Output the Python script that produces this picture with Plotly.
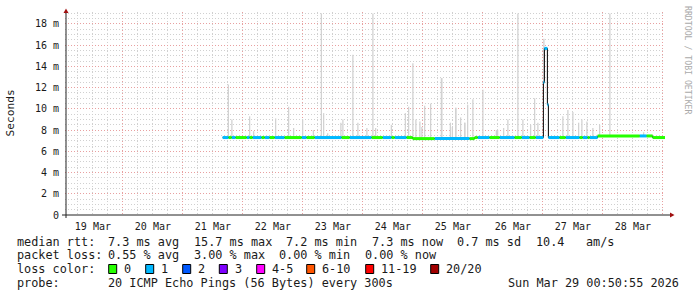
import plotly.graph_objects as go
from datetime import datetime, timedelta

# ---------------- data ----------------
T0 = datetime(2026, 3, 19)                 # reference for hour offsets
END = datetime(2026, 3, 29, 0, 50, 55)
START = END - timedelta(days=10)

# median RTT (ms), step changes, hours since Mar 19 00:00
median_hours = [63.9, 139.9, 164.7, 192.2, 192.6, 193.8, 194.2, 213.9, 235.9]
median_ms = [7.3, 7.2, 7.3, 12.5, 15.7, 10.4, 7.3, 7.45, 7.3]
data_end_hours = 240.85

# loss (pings lost of 20), step changes, hours since Mar 19 00:00
loss_hours = [63.9, 66.3, 67.5, 69.1, 73.5, 74.7, 75.9, 79.5, 80.7, 82.7, 84.7, 88.7,
              95.5, 97.5, 100.7, 111.5, 114.7, 123.5, 127.9, 131.5, 132.7, 137.5,
              148.7, 162.7, 165.9, 170.7, 174.7, 180.7, 183.5, 186.7, 189.1, 198.7,
              201.1, 206.7, 207.9, 209.9, 210.7, 213.9, 230.7, 233.5]
loss_count = [1, 0, 1, 0, 1, 0, 1, 0, 1, 0, 1, 0,
              1, 0, 1, 0, 1, 0, 1, 0, 1, 0,
              1, 0, 1, 0, 1, 0, 1, 0, 1, 0,
              1, 0, 1, 0, 1, 0, 1, 0]

# smoke spikes: hours since Mar 19 00:00 and max RTT (ms)
spike_hours = [66.2, 67.6, 74.7, 76.3, 85.1, 90.3, 92.3, 95.9, 100.2, 103.4, 104.3, 105.9,
               111.2, 112.0, 116.0, 118.0, 121.6, 124.0, 125.1, 131.4, 137.0, 138.3,
               140.0, 141.2, 142.8, 143.6, 144.7, 147.1, 151.4, 151.6, 155.0, 155.8,
               157.1, 157.2, 159.1, 160.7, 160.8, 161.9, 164.0, 168.0, 173.4, 173.9,
               176.3, 178.0, 182.0, 184.0, 187.1, 188.7, 190.0, 192.4, 200.0, 202.0,
               204.0, 206.3, 207.6, 209.6, 212.0, 214.7, 218.8, 232.3]
spike_ms = [12.3, 9.0, 9.3, 7.9, 9.1, 10.2, 8.2, 9.0, 8.0, 19.0, 9.6, 7.7,
            8.7, 9.0, 15.1, 8.7, 8.2, 19.0, 8.2, 8.5, 9.6, 10.2,
            14.3, 9.0, 8.8, 8.3, 10.3, 10.5, 12.9, 12.9, 8.7, 8.3,
            10.1, 10.1, 9.2, 8.7, 8.7, 10.4, 10.9, 11.8, 8.0, 8.0,
            8.2, 9.0, 19.0, 9.0, 8.5, 11.0, 8.7, 16.6, 9.3, 9.9,
            9.7, 8.7, 9.0, 8.8, 8.2, 8.5, 19.0, 7.8]

loss_labels = ["0", "1", "2", "3", "4-5", "6-10", "11-19", "20/20"]
loss_colors = ["#26ff00", "#00b8ff", "#0059ff", "#7e00ff", "#ff00ff", "#ff5500", "#ff0000", "#a10000"]

y_ticks = [0, 2, 4, 6, 8, 10, 12, 14, 16, 18]
y_tick_text = ["0", "2 m", "4 m", "6 m", "8 m", "10 m", "12 m", "14 m", "16 m", "18 m"]

stats_median = ["median rtt:", "7.3 ms avg", "15.7 ms max", "7.2 ms min", "7.3 ms now", "0.7 ms sd", "10.4", "am/s"]
stats_loss = ["packet loss:", "0.55 % avg", "3.00 % max", "0.00 % min", "0.00 % now"]
probe_text = ["probe:", "20 ICMP Echo Pings (56 Bytes) every 300s", "Sun Mar 29 00:50:55 2026"]

# ---------------- helpers ----------------
W, H = 697, 297
L, R, T, B = 65, 32, 12, 82
PW, PH = W - L - R, H - T - B
Y_MAX = 19.13
CH = 7.13          # monospace character advance (px)


def hx(h):
    return T0 + timedelta(hours=h)


def px(x):
    return (x - L) / PW


def py(y):
    return (H - B - y) / PH


def col(c):
    return 16 + c * CH if c == 0 else 14.3 + c * CH


def step_val(hours, vals, h):
    v = vals[0]
    for hh, vv in zip(hours, vals):
        if hh <= h:
            v = vv
        else:
            break
    return v


def bracket(n):
    if n <= 3:
        return n
    if n <= 5:
        return 4
    if n <= 10:
        return 5
    if n <= 19:
        return 6
    return 7


fig = go.Figure()

# smoke
sx, sy = [], []
for h, top in zip(spike_hours, spike_ms):
    m = step_val(median_hours, median_ms, h)
    sx += [hx(h), hx(h), None]
    sy += [m, top, None]
fig.add_trace(go.Scatter(x=sx, y=sy, mode="lines", line=dict(color="#d2d2d2", width=1.3),
                         hoverinfo="skip", showlegend=False))

# black median step line
mx = [hx(h) for h in median_hours] + [hx(data_end_hours)]
my = median_ms + [median_ms[-1]]
fig.add_trace(go.Scatter(x=mx, y=my, mode="lines", line=dict(color="#000000", width=1, shape="hv"),
                         hoverinfo="skip", showlegend=False))

# loss-coloured median
bps = sorted(set(median_hours + loss_hours + [data_end_hours]))
segs = {}
for a, b in zip(bps[:-1], bps[1:]):
    m = step_val(median_hours, median_ms, a)
    c = bracket(step_val(loss_hours, loss_count, a))
    sx_, sy_ = segs.setdefault(c, ([], []))
    sx_ += [hx(a), hx(b), None]
    sy_ += [m, m, None]
for c, (xs, ys) in segs.items():
    fig.add_trace(go.Scatter(x=xs, y=ys, mode="lines", line=dict(color=loss_colors[c], width=3),
                             hoverinfo="skip", showlegend=False))

MONO = "DejaVu Sans Mono"
TXT = "#1a1a1a"

fig.update_layout(
    width=W, height=H, margin=dict(l=L, r=R, t=T, b=B, pad=0),
    paper_bgcolor="white", plot_bgcolor="white", showlegend=False,
    font=dict(family=MONO, size=10, color=TXT),
    xaxis=dict(
        range=[START, END], type="date", tick0="2026-03-19", dtick=86400000,
        ticklabelmode="period", tickformat="%d %b", ticks="", showline=False, zeroline=False,
        showgrid=True, gridcolor="#e8a0a0", griddash="1px,2px", gridwidth=1,
        minor=dict(dtick=6 * 3600000, showgrid=True, gridcolor="#d0d0d0", griddash="1px,2px", gridwidth=1),
        tickfont=dict(family=MONO, size=10, color=TXT), ticklabelstandoff=4,
    ),
    yaxis=dict(
        range=[0, Y_MAX], tickvals=y_ticks, ticktext=y_tick_text, ticks="", showline=False,
        zeroline=False, showgrid=True, gridcolor="#e8a0a0", griddash="1px,2px", gridwidth=1,
        minor=dict(dtick=0.5, showgrid=True, gridcolor="#d0d0d0", griddash="1px,2px", gridwidth=1),
        tickfont=dict(family=MONO, size=10, color=TXT), ticklabelstandoff=5,
    ),
)

shapes = []
# axis lines
shapes.append(dict(type="line", xref="paper", yref="paper", x0=px(62), x1=px(670), y0=py(215), y1=py(215),
                   line=dict(color="#222", width=1)))
shapes.append(dict(type="line", xref="paper", yref="paper", x0=px(66), x1=px(66), y0=py(218), y1=py(12),
                   line=dict(color="#222", width=1)))
# arrowheads
shapes.append(dict(type="path", xref="paper", yref="paper",
                   path=f"M {px(63.5)} {py(13)} L {px(68.5)} {py(13)} L {px(66)} {py(8.5)} Z",
                   fillcolor="#a01010", line=dict(width=0)))
shapes.append(dict(type="path", xref="paper", yref="paper",
                   path=f"M {px(670)} {py(212.5)} L {px(670)} {py(217.5)} L {px(674.5)} {py(215)} Z",
                   fillcolor="#a01010", line=dict(width=0)))

ann = []


def text(x, y, s, size=11.84, color=TXT, anchor="left", angle=0):
    ann.append(dict(x=px(x), y=py(y), xref="paper", yref="paper", text=s.replace(" ", "\u00a0"),
                    showarrow=False, xanchor=anchor, yanchor="middle", textangle=angle,
                    font=dict(family=MONO, size=size, color=color), borderpad=0))


text(10, 113.5, "Seconds", size=11.2, anchor="center", angle=-90)
text(688, 60, "RRDTOOL / TOBI OETIKER", size=8.2, color="#aaaaaa", anchor="center", angle=90)

med_cols = [0, 13, 25, 38, 50, 62, 73, 80]
for c, s in zip(med_cols, stats_median):
    text(col(c), 241.7, s)
loss_cols = [0, 13, 25, 37, 49]
for c, s in zip(loss_cols, stats_loss):
    text(col(c), 255, s)
text(16, 269.3, "loss color:")
box_x = [108.7, 145.7, 182.7, 219.3, 256.7, 306.7, 365.7, 430.7]
for bx, lab, color in zip(box_x, loss_labels, loss_colors):
    shapes.append(dict(type="rect", xref="paper", yref="paper", x0=px(bx), x1=px(bx + 8),
                       y0=py(273.5), y1=py(264.5), fillcolor=color, line=dict(color="#000", width=1)))
    text(bx + 14.5, 269.3, lab)
text(16, 282.7, probe_text[0])
text(col(13), 282.7, probe_text[1])
text(680, 282.7, probe_text[2], anchor="right")

fig.update_layout(shapes=shapes, annotations=ann)
fig.write_html("out.html")
